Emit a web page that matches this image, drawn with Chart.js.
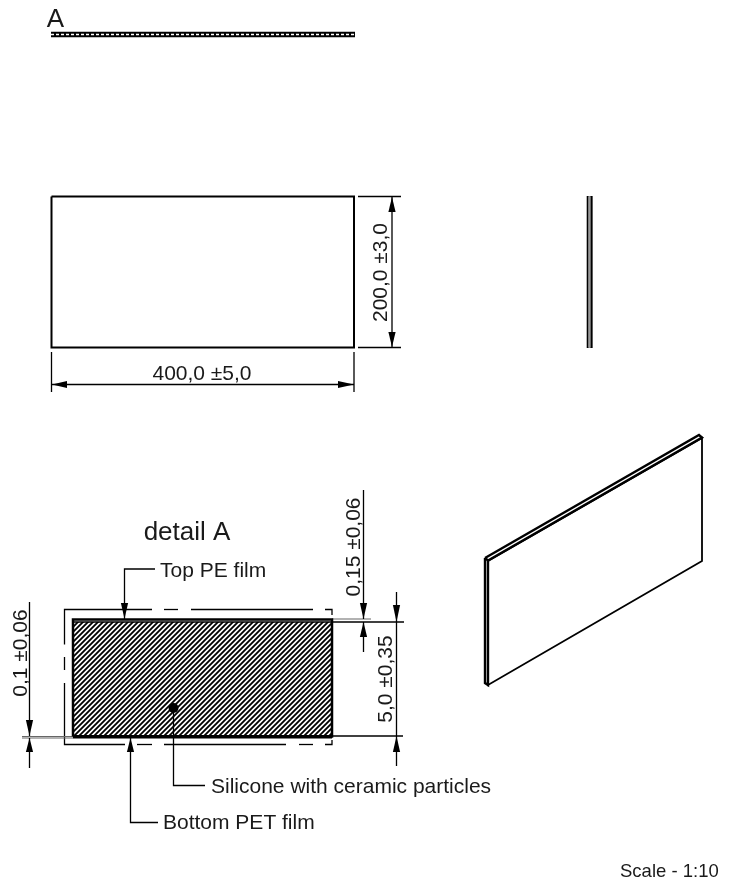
<!DOCTYPE html>
<html>
<head>
<meta charset="utf-8">
<title>Scale drawing</title>
<script src="https://cdn.jsdelivr.net/npm/chart.js@4/dist/chart.umd.min.js"></script>
<style>
	html, body { margin: 0; padding: 0; background: #fff; }
	canvas { display: block; }
</style>
</head>
<body>
<canvas id="drawing" width="736" height="885"></canvas>
<script>
// every shape below is in drawing units
var stripLine = [[51, 34.5], [355, 34.5]];
var frontView = [[51.5, 196.5], [354, 196.5], [354, 347.5], [51.5, 347.5], [51.5, 196.5]];
var sideLeft = [[587.5, 196], [587.5, 348]];
var sideMiddle = [[589.5, 196], [589.5, 348]];
var sideRight = [[591.5, 196], [591.5, 348]];
var sideCaps = [[587, 196.5], [592, 196.5], [592, 347.5], [587, 347.5]];

var frontDims = [
	[[358, 196.5], [401, 196.5]],
	[[358, 347.5], [401, 347.5]],
	[[392, 197], [392, 347]],
	[[51.5, 352], [51.5, 392]],
	[[354, 352], [354, 392]],
	[[52, 384.5], [354, 384.5]]
];

var isoPanel = [[488, 561], [702, 438], [702, 561], [488, 685]];
var isoStrip = [[485, 558], [699, 435], [702, 437.5], [488, 560.5], [485, 558]];
var isoEdge = [[485, 558], [485, 683], [488, 685], [488, 561]];

var hatchBlock = [[73, 622], [332, 622], [332, 736], [73, 736]];
var blockOutline = [[73, 736.5], [73, 619.5], [332, 619.5], [332, 736.5], [73, 736.5]];
var blockInner = [[73, 622], [332, 622]];
var blockBase = [[73, 736.8], [332, 736.8]];

var detailDashes = [
	[[64.5, 644.5], [64.5, 609.5], [152, 609.5]],
	[[164, 609.5], [178, 609.5]],
	[[191, 609.5], [313, 609.5]],
	[[325, 609.5], [332, 609.5], [332, 615]],
	[[64.5, 657], [64.5, 670]],
	[[64.5, 683], [64.5, 744.5], [125, 744.5]],
	[[137, 744.5], [152, 744.5]],
	[[164, 744.5], [286, 744.5]],
	[[299, 744.5], [313, 744.5]],
	[[325, 744.5], [332, 744.5], [332, 740]]
];

var detailDims = [
	[[332, 622], [404, 622]],
	[[332, 736], [403, 736]],
	[[363.5, 490], [363.5, 619]],
	[[363.5, 622], [363.5, 652]],
	[[396.5, 592], [396.5, 766]],
	[[29.5, 602], [29.5, 736]],
	[[29.5, 738], [29.5, 768]]
];
var greyDims = [
	[[332, 619], [371, 619]],
	[[22, 736.5], [73, 736.5]],
	[[22, 738], [73, 738]]
];

var leaders = [
	[[155, 569], [124.5, 569], [124.5, 619]],
	[[173.5, 708], [173.5, 785.5], [205, 785.5]],
	[[130.5, 738], [130.5, 822.5], [158, 822.5]]
];
var leaderDot = [[173.5, 708]];

// tip, then middle of the base
var arrowHeads = [
	[[392, 197], [392, 212]],
	[[392, 347], [392, 332]],
	[[52, 384.5], [67, 384.5]],
	[[354, 384.5], [338, 384.5]],
	[[124.5, 619], [124.5, 603]],
	[[130.5, 738], [130.5, 752]],
	[[363.5, 619], [363.5, 603]],
	[[363.5, 622], [363.5, 637]],
	[[396.5, 622], [396.5, 605]],
	[[396.5, 736], [396.5, 752]],
	[[29.5, 736], [29.5, 720]],
	[[29.5, 738], [29.5, 752]]
];

var labelTexts = ["A", "400,0 ±5,0", "200,0 ±3,0", "detail A", "Top PE film", "0,15 ±0,06", "0,1 ±0,06", "5,0 ±0,35", "Silicone with ceramic particles", "Bottom PET film", "Scale - 1:10"];
var labelX = [55.5, 202, 387, 187, 160, 360, 27, 392, 211, 163, 620];
var labelY = [27, 380, 272.5, 540, 577, 547, 653, 679, 793, 829, 877];
var labelAngle = [0, 0, -90, 0, 0, -90, -90, -90, 0, 0, 0];
var labelAlign = ["center", "center", "center", "center", "left", "center", "center", "center", "left", "left", "left"];
var labelSize = [26, 21, 21, 26, 21, 21, 21, 21, 21, 21, 18.5];

function pts(list) {
	return list.map(function (p) { return { x: p[0], y: p[1] }; });
}

function stroke(list, width, color, dash) {
	return {
		type: "scatter",
		data: pts(list),
		showLine: true,
		fill: false,
		tension: 0,
		borderColor: color || "#000",
		borderWidth: width,
		borderDash: dash || [],
		pointRadius: 0,
		clip: false
	};
}

function solid(list, color) {
	return {
		type: "scatter",
		data: pts(list),
		showLine: true,
		fill: "shape",
		tension: 0,
		backgroundColor: color,
		borderColor: "rgba(0,0,0,0)",
		borderWidth: 0,
		pointRadius: 0,
		clip: false
	};
}

function arrowShape(head) {
	var tip = head[0], base = head[1], half = 3.6;
	var nx = tip[1] === base[1] ? 0 : half;
	var ny = tip[1] === base[1] ? half : 0;
	return [tip, [base[0] + nx, base[1] + ny], [base[0] - nx, base[1] - ny]];
}

function hatchPattern() {
	var tile = document.createElement("canvas");
	tile.width = 5;
	tile.height = 5;
	var t = tile.getContext("2d");
	t.strokeStyle = "#000";
	t.lineWidth = 1.8;
	t.beginPath();
	t.moveTo(-1, 1); t.lineTo(1, -1);
	t.moveTo(-1, 6); t.lineTo(6, -1);
	t.moveTo(4, 6); t.lineTo(6, 4);
	t.stroke();
	return t.createPattern(tile, "repeat");
}

var sets = [];
sets.push(stroke(stripLine, 5.5));
sets.push(stroke(stripLine, 1.3, "#fff", [3, 2]));
sets.push(stroke(frontView, 2));
sets.push(stroke(sideCaps, 1.2, "#555"));
sets.push(stroke(sideMiddle, 2.5, "#999"));
sets.push(stroke(sideLeft, 1.6));
sets.push(stroke(sideRight, 1.8));
frontDims.forEach(function (d) { sets.push(stroke(d, 1.3)); });
sets.push(stroke(isoPanel.concat([isoPanel[0]]), 1.8));
sets.push(stroke(isoStrip, 2.4));
sets.push(stroke(isoEdge, 2.4));
sets.push(solid(hatchBlock, hatchPattern()));
detailDashes.forEach(function (d) { sets.push(stroke(d, 1.3)); });
greyDims.forEach(function (d) { sets.push(stroke(d, 1.2, "#666")); });
detailDims.forEach(function (d) { sets.push(stroke(d, 1.3)); });
sets.push(stroke(blockOutline, 2.5));
sets.push(stroke(blockBase, 3.5));
sets.push(stroke(blockInner, 1.5));
leaders.forEach(function (d) { sets.push(stroke(d, 1.3)); });
arrowHeads.forEach(function (h) { sets.push(solid(arrowShape(h), "#000")); });
sets.push({
	type: "scatter",
	data: pts(leaderDot),
	pointRadius: 5,
	pointBackgroundColor: "#000",
	pointBorderWidth: 0,
	clip: false
});
// chart.js paints the first dataset last
sets.reverse();

var drawingLabels = {
	id: "drawingLabels",
	afterDatasetsDraw: function (chart) {
		var c = chart.ctx, xs = chart.scales.x, ys = chart.scales.y;
		labelTexts.forEach(function (text, i) {
			c.save();
			c.translate(xs.getPixelForValue(labelX[i]), ys.getPixelForValue(labelY[i]));
			c.rotate(labelAngle[i] * Math.PI / 180);
			c.font = labelSize[i] + "px 'Liberation Sans', Arial, sans-serif";
			c.fillStyle = "#1a1a1a";
			c.textAlign = labelAlign[i];
			c.textBaseline = "alphabetic";
			c.fillText(text, 0, 0);
			c.restore();
		});
	}
};

new Chart(document.getElementById("drawing").getContext("2d"), {
	type: "scatter",
	data: { datasets: sets },
	plugins: [drawingLabels],
	options: {
		responsive: false,
		animation: false,
		events: [],
		layout: { padding: 0, autoPadding: false },
		plugins: {
			legend: { display: false },
			title: { display: false },
			tooltip: { enabled: false }
		},
		scales: {
			x: { type: "linear", min: 0, max: 736, display: false },
			y: { type: "linear", min: 0, max: 885, reverse: true, display: false }
		}
	}
});
</script>
</body>
</html>
